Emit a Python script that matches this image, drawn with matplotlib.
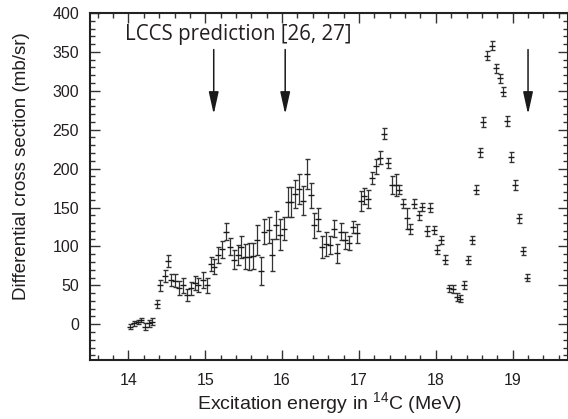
import matplotlib
matplotlib.use("Agg")
import matplotlib.pyplot as plt
from matplotlib.ticker import MultipleLocator

# excitation energy (MeV), cross section (mb/sr), error (mb/sr)
energy = [
    14.02, 14.07, 14.12, 14.16, 14.22, 14.27, 14.31, 14.37, 14.41, 14.47,
    14.51, 14.56, 14.61, 14.66, 14.71, 14.76, 14.81, 14.87, 14.91, 14.97,
    15.02, 15.07, 15.12, 15.17, 15.22, 15.27, 15.32, 15.37, 15.42, 15.47,
    15.52, 15.57, 15.62, 15.67, 15.72, 15.77, 15.83, 15.87, 15.92, 15.97,
    16.02, 16.07, 16.12, 16.17, 16.22, 16.27, 16.32, 16.37, 16.42, 16.47,
    16.52, 16.57, 16.62, 16.67, 16.72, 16.77, 16.82, 16.87, 16.92, 16.97,
    17.02, 17.07, 17.12, 17.17, 17.22, 17.28, 17.32, 17.38, 17.43, 17.48,
    17.52, 17.57, 17.62, 17.67, 17.72, 17.78, 17.82, 17.88, 17.92, 17.97,
    18.02, 18.07, 18.12, 18.17, 18.23, 18.27, 18.31, 18.37, 18.42, 18.47,
    18.52, 18.57, 18.62, 18.67, 18.73, 18.78, 18.83, 18.88, 18.93, 18.98,
    19.03, 19.08, 19.13, 19.18,
]
xsec = [
    -3, 1, 3, 5.5, -3, 1, 3, 26, 50, 62,
    81.5, 57, 56, 47, 50, 37.5, 46, 53, 50, 57,
    50, 78, 74, 89, 96.5, 119, 99.5, 83, 89, 99.5,
    87, 87, 87.5, 108, 69, 119, 121, 89, 128, 115,
    123, 157, 157, 167, 174, 159, 193, 166, 127, 135,
    99.5, 103, 102, 123, 91, 119, 108, 105, 125, 117,
    158, 165, 161, 188, 203, 214, 245, 207, 179, 179,
    173, 155, 136, 122, 155, 140, 151, 120, 150, 121,
    96, 108, 83, 46, 45, 35, 33, 50, 83, 108,
    173, 221, 260, 345, 358, 329, 316, 299, 261, 215,
    179, 136, 94, 60,
]
err = [
    3, 3, 3, 3, 4, 4, 4.5, 5, 7, 8,
    8, 8, 8, 9, 10, 8, 8, 9, 9, 10,
    10, 9, 10, 10, 11, 11, 11, 12, 13, 14,
    16, 17, 17, 19, 18, 16, 17, 20, 18, 20,
    15, 19, 19, 18, 19, 18, 19, 16, 16, 15,
    14, 15, 12, 11, 12, 11, 11, 9, 8, 12,
    13, 10, 11, 7.5, 9.5, 8, 7.5, 6.5, 12, 14,
    6, 6, 13.5, 6.5, 6, 6, 5, 6, 5.5, 5.5,
    5.5, 5, 5.5, 5, 5, 5, 5, 5, 5, 5.5,
    5.5, 6, 6, 6, 6, 6, 6, 6, 6, 6,
    6, 5.5, 5.5, 5,
]

# LCCS predicted states
lccs_energy = [15.11, 16.04, 19.20]

TXT = "#231f20"

plt.rcParams["font.family"] = ["Liberation Sans", "DejaVu Sans"]
plt.rcParams["mathtext.fontset"] = "custom"
plt.rcParams["mathtext.rm"] = "Liberation Sans"

fig = plt.figure(figsize=(5.68, 4.19), dpi=100)
ax = fig.add_axes([90 / 568, 59 / 419, 478 / 568, 347 / 419])

ax.errorbar(energy, xsec, yerr=err, fmt="_", color="#1a1a1a", ecolor="#333333",
            elinewidth=0.9, capsize=1.8, capthick=0.9, markersize=5,
            markeredgewidth=1.0)

for e in lccs_energy:
    ax.annotate("", xy=(e, 270), xytext=(e, 353),
                arrowprops=dict(arrowstyle="-|>,head_length=0.9,head_width=0.2",
                                color="#1a1a1a", lw=1.1, mutation_scale=15,
                                shrinkA=0, shrinkB=0))

ax.text(13.96, 373, "LCCS prediction [26, 27]", fontsize=14.8, color=TXT,
        family=["Open Sans", "DejaVu Sans"], va="center", ha="left")

ax.set_xlim(13.5, 19.72)
ax.xaxis.set_major_locator(MultipleLocator(1))
ax.xaxis.set_minor_locator(MultipleLocator(0.2))
ax.yaxis.set_minor_locator(MultipleLocator(10))
ax.set_yticks(range(0, 401, 50))
ax.set_ylim(-46, 400)

ax.tick_params(which="both", direction="in", top=True, right=True,
               colors="#333333", labelcolor=TXT, labelsize=11.5, width=1.0)
ax.tick_params(which="major", length=7)
ax.tick_params(axis="x", which="major", pad=9)
ax.tick_params(axis="y", which="major", pad=8)
ax.tick_params(which="minor", length=3.5)
for s in ax.spines.values():
    s.set_linewidth(1.5)
    s.set_color("#222222")

ax.set_xlabel("Excitation energy in $\\mathrm{^{14}}$C (MeV)", fontsize=14,
              color=TXT, labelpad=2)
ax.set_ylabel("Differential cross section (mb/sr)", fontsize=13.5, color=TXT)
# label sits a little above the axes centre in the original
ax.yaxis.set_label_coords(-0.125, 0.56)

plt.savefig("out.png", dpi=100)
plt.close()
